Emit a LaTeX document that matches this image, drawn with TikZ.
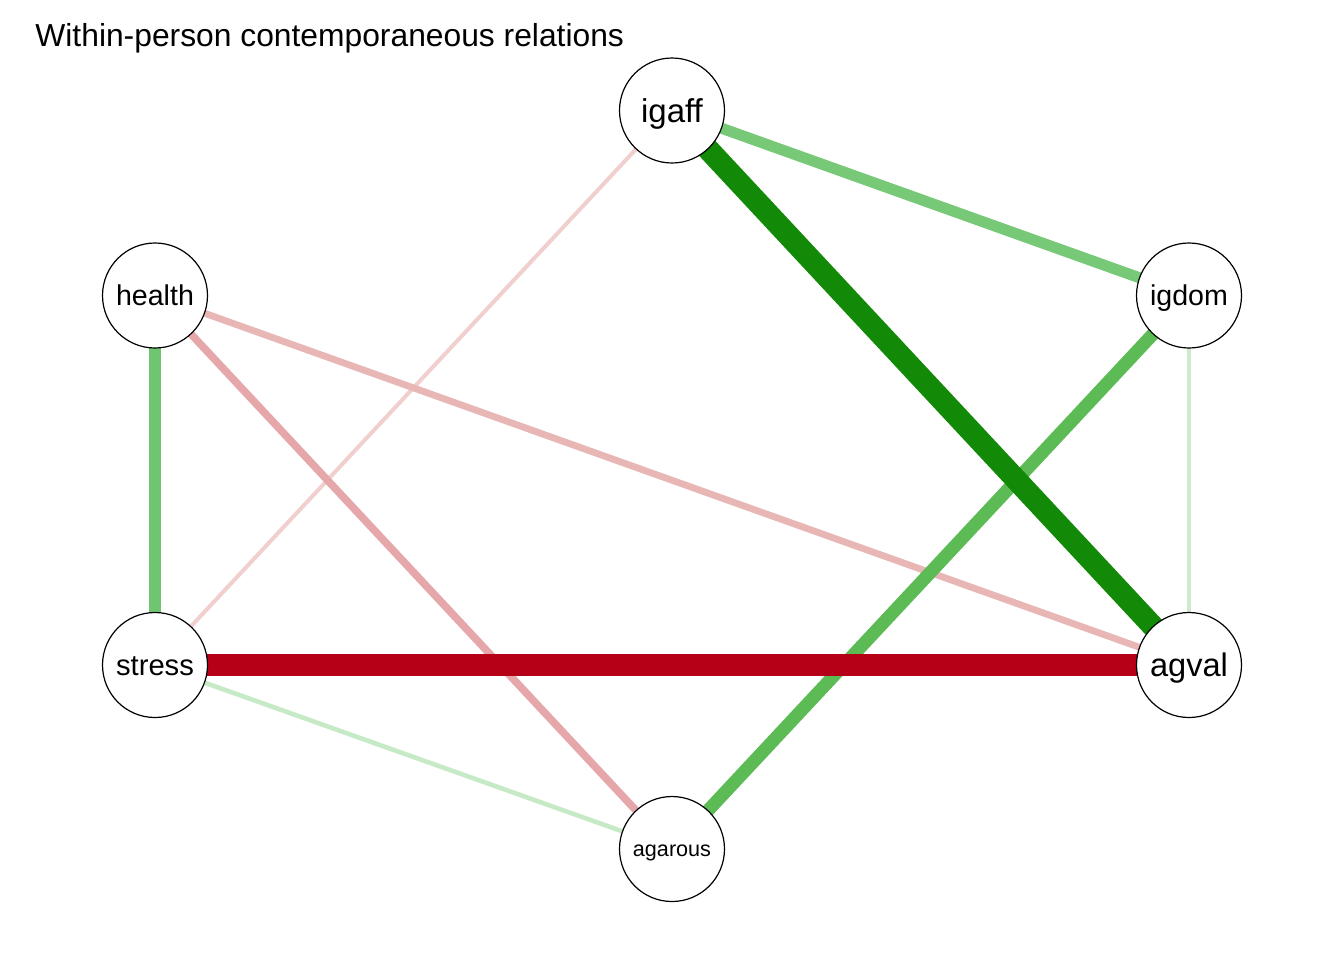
\documentclass[tikz,border=0pt]{standalone}
\usepackage{fontspec}
\setmainfont{Liberation Sans}
\usetikzlibrary{backgrounds}
\definecolor{dgreen}{HTML}{138A07}
\definecolor{cIgIgd}{HTML}{77C977}
\definecolor{cIgdAga}{HTML}{5CBB55}
\definecolor{cIgdAgv}{HTML}{CDEBCD}
\definecolor{cHeaStr}{HTML}{70C670}
\definecolor{cHeaAgv}{HTML}{E9B6B6}
\definecolor{cHeaAga}{HTML}{E5A7A9}
\definecolor{cIgStr}{HTML}{F2CFCF}
\definecolor{dred}{HTML}{B50018}
\definecolor{cStrAga}{HTML}{C6EAC5}
\tikzset{
  vnode/.style={circle, draw=black, fill=white, line width=0.6pt, minimum size=52.5pt, inner sep=0pt, text depth=0pt},
  edg/.style={line cap=butt}
}
\begin{document}
\begin{tikzpicture}[x=0.5pt,y=-0.5pt]
\useasboundingbox (0,0) rectangle (1344,960);
\node[anchor=base west, inner sep=0pt, font=\fontsize{15.9}{19}\selectfont] (title) at (35,46) {Within-person contemporaneous relations};
\node[vnode, text height=11.8pt, font=\fontsize{16.5}{19}\selectfont] (igaff) at (672,110.5) {igaff};
\node[vnode, text height=10.2pt, font=\fontsize{14.3}{17}\selectfont] (health) at (155,295.5) {health};
\node[vnode, text height=10.2pt, font=\fontsize{14.3}{17}\selectfont] (igdom) at (1189,295.5) {igdom};
\node[vnode, text height=10.4pt, font=\fontsize{14.6}{17}\selectfont] (stress) at (155,665) {stress};
\node[vnode, text height=11.6pt, font=\fontsize{16.3}{19}\selectfont] (agval) at (1189,665) {agval};
\node[vnode, text height=7.7pt, font=\fontsize{10.8}{13}\selectfont] (agarous) at (672,849) {agarous};
\begin{scope}[on background layer]
\draw[edg, cStrAga, line width=2.3pt] (stress.center) -- (agarous.center);
\draw[edg, cIgStr, line width=2pt] (igaff.center) -- (stress.center);
\draw[edg, cIgdAgv, line width=2.2pt] (igdom.center) -- (agval.center);
\draw[edg, cHeaAgv, line width=3.4pt] (health.center) -- (agval.center);
\draw[edg, cHeaAga, line width=3.8pt] (health.center) -- (agarous.center);
\draw[edg, cHeaStr, line width=6pt] (health.center) -- (stress.center);
\draw[edg, cIgIgd, line width=5.5pt] (igaff.center) -- (igdom.center);
\draw[edg, cIgdAga, line width=6.5pt] (igdom.center) -- (agarous.center);
\draw[edg, dgreen, line width=11pt] (igaff.center) -- (agval.center);
\draw[edg, dred, line width=11.3pt] (stress.center) -- (agval.center);
\end{scope}
\end{tikzpicture}
\end{document}
